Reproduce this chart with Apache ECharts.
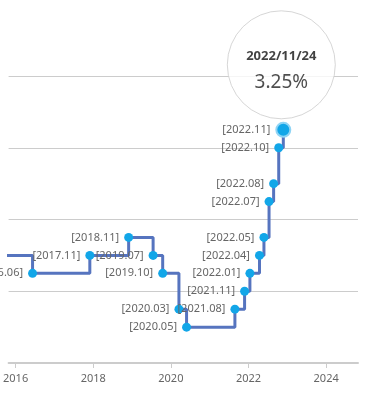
<!DOCTYPE html>
<html><head><meta charset="utf-8">
<script src="https://cdn.jsdelivr.net/npm/echarts@6/dist/echarts.min.js"></script>
<style>html,body{margin:0;padding:0;background:#fff}#c{width:366px;height:413px}</style>
</head><body><div id="c"></div>
<script>
const dates = ['2015-06-11','2016-06-09','2017-11-30','2018-11-30','2019-07-18','2019-10-16','2020-03-17','2020-05-28','2021-08-26','2021-11-25','2022-01-14','2022-04-14','2022-05-26','2022-07-13','2022-08-25','2022-10-12','2022-11-24'];
const rates = [1.5,1.25,1.5,1.75,1.5,1.25,0.75,0.5,0.75,1.0,1.25,1.5,1.75,2.25,2.5,3.0,3.25];
const xTicks = [2016,2018,2020,2022,2024];

function yearFrac(s){
  const [y,m,d]=s.split('-').map(Number);
  const t=Date.UTC(y,m-1,d), t0=Date.UTC(y,0,1), t1=Date.UTC(y+1,0,1);
  return y+(t-t0)/(t1-t0);
}
const pts = dates.map((d,i)=>[yearFrac(d),rates[i],d]);
const lastIdx = pts.length-1;
const last = pts[lastIdx];
const lineData = pts.map((p,i)=>i===lastIdx?{value:p,symbolSize:14,itemStyle:{color:'#12a6e8',borderColor:'#8fd4f5',borderWidth:2}}:{value:p});

const chart = echarts.init(document.getElementById('c'));
chart.setOption({
  animation:false,
  grid:{left:7,right:8,top:76,bottom:50},
  xAxis:{type:'value',min:2015.82,max:2024.82,
    axisLine:{lineStyle:{color:'#ccc',width:2}},
    axisTick:{customValues:xTicks,length:5,lineStyle:{color:'#ccc'}},
    axisLabel:{customValues:xTicks,formatter:v=>String(v),color:'#666',fontSize:11,fontFamily:'Noto Sans',margin:10},
    splitLine:{show:false}},
  yAxis:{type:'value',min:0,max:4,interval:1,
    axisLine:{show:false},axisTick:{show:false},axisLabel:{show:false},
    splitLine:{lineStyle:{color:'#ccc'}}},
  series:[{
    type:'line',step:'end',data:lineData,
    symbol:'circle',symbolSize:9,
    itemStyle:{color:'#12a6e8'},
    lineStyle:{color:'#5674bf',width:3},
    label:{show:true,position:'left',distance:5,color:'#666',fontSize:11,fontFamily:'Noto Sans',
      formatter:p=>'['+p.value[2].slice(0,7).replace('-','.')+']'}
  },{
    type:'scatter',data:[last],symbol:'circle',symbolSize:108,symbolOffset:[-2,-65],z:10,
    itemStyle:{color:'#fff',borderColor:'#ccc',borderWidth:1},
    label:{show:true,position:'inside',offset:[0,4],
      formatter:p=>'{a|'+p.data[2].replace(/-/g,'/')+'}\n{b|'+p.data[1].toFixed(2)+'%}',
      rich:{a:{fontSize:13,fontWeight:'bold',color:'#111',fontFamily:'Noto Sans',lineHeight:28},
            b:{fontSize:19,color:'#222',fontFamily:'Noto Sans',lineHeight:26}}}
  }]
});
</script></body></html>
